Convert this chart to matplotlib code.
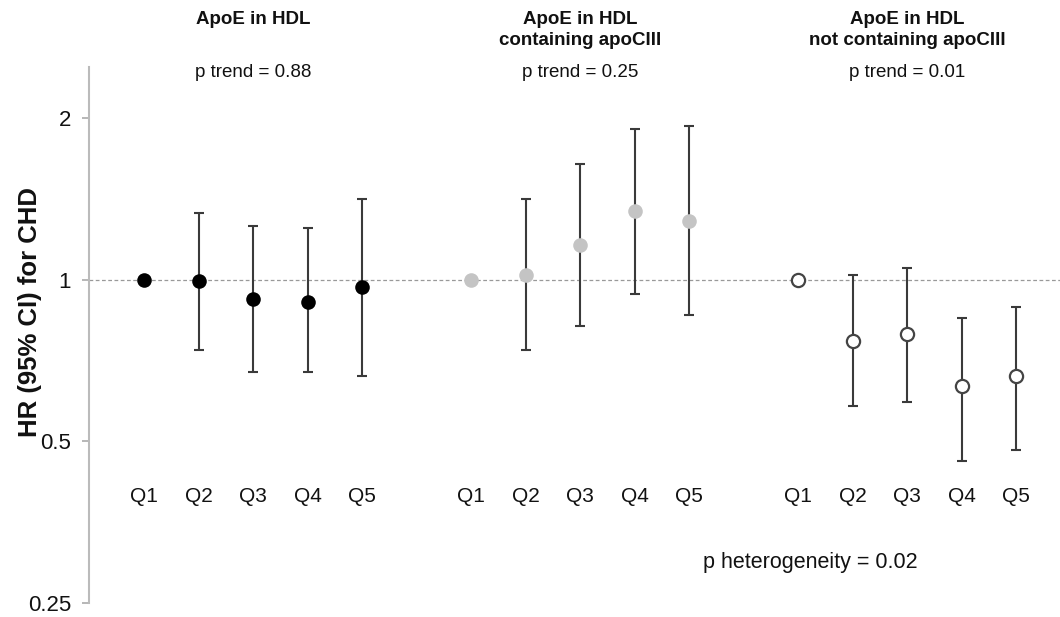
import numpy as np
import matplotlib
matplotlib.use("Agg")
import matplotlib.pyplot as plt

plt.rcParams['font.family'] = ['Liberation Sans', 'DejaVu Sans']

# ---- data (HR and 95% CI per quintile) ----
quintiles = ["Q1", "Q2", "Q3", "Q4", "Q5"]
group_titles = ["ApoE in HDL", "ApoE in HDL\ncontaining apoCIII", "ApoE in HDL\nnot containing apoCIII"]
p_trends = ["p trend = 0.88", "p trend = 0.25", "p trend = 0.01"]
p_het = "p heterogeneity = 0.02"

hr_all = [1.00, 0.994, 0.919, 0.909, 0.969]
lo_all = [1.00, 0.741, 0.672, 0.672, 0.663]
hi_all = [1.00, 1.33, 1.26, 1.25, 1.414]

hr_with = [1.00, 1.02, 1.162, 1.341, 1.287]
lo_with = [1.00, 0.741, 0.821, 0.942, 0.861]
hi_with = [1.00, 1.414, 1.643, 1.911, 1.933]

hr_without = [1.00, 0.769, 0.791, 0.633, 0.662]
lo_without = [1.00, 0.581, 0.591, 0.459, 0.482]
hi_without = [1.00, 1.02, 1.051, 0.85, 0.889]

groups = [
    (hr_all, lo_all, hi_all, dict(color="black", mec="black", mew=0, ms=10.5)),
    (hr_with, lo_with, hi_with, dict(color="#c4c4c4", mec="#c4c4c4", mew=0, ms=10.5)),
    (hr_without, lo_without, hi_without, dict(color="white", mec="#444444", mew=1.6, ms=9.5)),
]

fig = plt.figure(figsize=(10.6, 6.17), dpi=100)
ax = fig.add_axes([0.084, 0.0227, 0.916, 0.8687])
ax.set_yscale("log", base=2)

for g, (hr, lo, hi, style) in enumerate(groups):
    x = np.arange(5) + 1 + 6 * g
    hr = np.array(hr); lo = np.array(lo); hi = np.array(hi)
    # Q1 is the reference category: no CI bar
    ax.errorbar(x[1:], hr[1:], yerr=[hr[1:] - lo[1:], hi[1:] - hr[1:]],
                fmt="none", ecolor="#3a3a3a", elinewidth=1.5, capsize=3.5,
                capthick=1.5, zorder=2)
    ax.plot(x, hr, "o", linestyle="none", zorder=3, **style)
    for xi, q in zip(x, quintiles):
        ax.text(xi, 0.395, q, ha="center", va="center", fontsize=15, color="#111111")
    ax.text(x[2], 1.105, group_titles[g], transform=ax.get_xaxis_transform(),
            ha="center", va="top", fontsize=13.5, fontweight="bold",
            color="#111111", linespacing=1.3, clip_on=False)
    ax.text(x[2], 0.99, p_trends[g], transform=ax.get_xaxis_transform(),
            ha="center", va="center", fontsize=13.5, color="#111111", clip_on=False)

ax.text(13.22, 0.297, p_het, ha="center", va="center", fontsize=15.5, color="#111111")

ax.axhline(1.0, color="#999999", linestyle=(0, (3, 2)), linewidth=0.9, zorder=1)

ax.set_xlim(-0.01, 17.8)
ax.set_ylim(0.25, 2.49)
ax.set_yticks([0.25, 0.5, 1, 2])
ax.set_yticklabels(["0.25", "0.5", "1", "2"])
ax.yaxis.set_minor_locator(matplotlib.ticker.NullLocator())
ax.tick_params(axis="y", colors="#aaaaaa", labelcolor="#111111", labelsize=16,
               length=5, width=1.2, pad=8)
ax.set_xticks([])
for s in ["top", "right", "bottom"]:
    ax.spines[s].set_visible(False)
ax.spines["left"].set_color("#bbbbbb")
ax.spines["left"].set_linewidth(1.5)

fig.text(30 / 1060, 1 - 312 / 617, "HR (95% CI) for CHD", rotation=90,
         ha="center", va="center", fontsize=18.5, fontweight="bold", color="#111111")

fig.savefig("out.png", dpi=100)
